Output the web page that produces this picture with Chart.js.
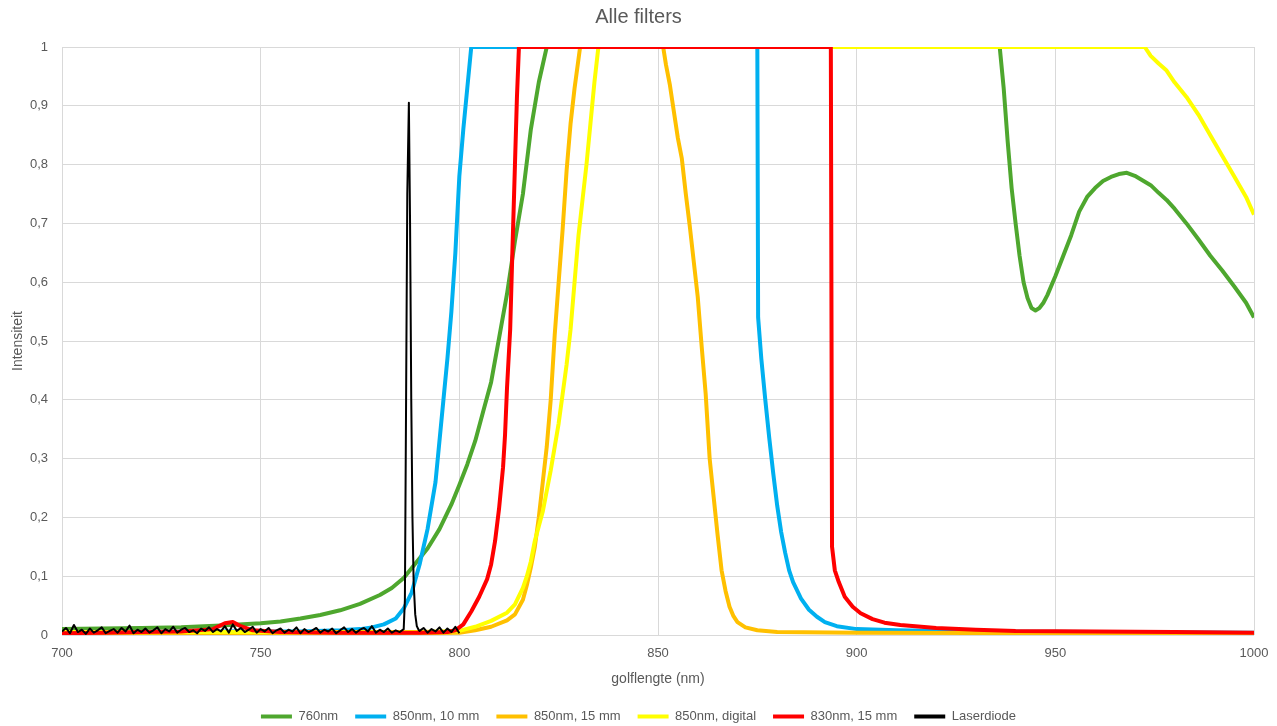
<!DOCTYPE html>
<html>
<head>
<meta charset="utf-8">
<script src="https://cdn.jsdelivr.net/npm/chart.js@4.4.2/dist/chart.umd.min.js"></script>
<style>
  html, body { margin: 0; padding: 0; background: #fff; }
  #wrap { width: 1277px; height: 726px; }
</style>
</head>
<body>
<div id="wrap"><canvas id="chart" width="1277" height="726"></canvas></div>
<script>
// golflengte (nm) / intensiteit per meting
const wl760 = [700, 710, 720, 730, 740, 750, 755, 760, 765, 770, 775, 780, 783, 786, 789, 792, 795, 798, 800, 802, 804, 806, 808, 810, 812, 814, 816, 818, 820, 822,
  936, 937, 938, 939, 940, 941, 942, 943, 944, 945, 946, 947, 948, 950, 952, 954, 956, 958, 960, 962, 964, 966, 968, 970, 972, 974, 976, 978, 980, 983, 986, 989, 992, 995, 998, 1000];
const int760 = [0.010, 0.011, 0.012, 0.013, 0.016, 0.020, 0.023, 0.028, 0.034, 0.042, 0.053, 0.068, 0.080, 0.097, 0.122, 0.147, 0.180, 0.222, 0.255, 0.290, 0.330, 0.380, 0.430, 0.505, 0.580, 0.670, 0.750, 0.860, 0.940, 1,
  1, 0.930, 0.840, 0.760, 0.700, 0.645, 0.600, 0.573, 0.556, 0.552, 0.556, 0.565, 0.578, 0.610, 0.645, 0.680, 0.720, 0.745, 0.760, 0.772, 0.779, 0.784, 0.786, 0.781, 0.773, 0.765, 0.752, 0.740, 0.725, 0.700, 0.673, 0.645, 0.620, 0.593, 0.565, 0.540];

const wl850a = [700, 720, 740, 760, 770, 775, 778, 781, 784, 786, 788, 790, 792, 794, 796, 797, 798, 799, 800, 801, 802, 803,
  875, 875.2, 876, 877, 878, 879, 880, 881, 882, 883, 884, 886, 888, 890, 892, 895, 900, 910, 930, 960, 1000];
const int850a = [0.004, 0.005, 0.006, 0.006, 0.008, 0.010, 0.013, 0.018, 0.028, 0.045, 0.072, 0.120, 0.180, 0.260, 0.400, 0.470, 0.550, 0.650, 0.780, 0.860, 0.930, 1,
  1, 0.540, 0.470, 0.400, 0.335, 0.275, 0.220, 0.175, 0.140, 0.110, 0.090, 0.062, 0.043, 0.031, 0.022, 0.015, 0.010, 0.008, 0.006, 0.005, 0.004];

const wl850b = [700, 750, 790, 800, 804, 808, 812, 814, 816, 817, 818, 819, 820, 821, 822, 823, 824, 825, 826, 827, 828, 829, 830.4,
  851.3, 852, 853, 854, 855, 856, 857, 858, 859, 860, 861, 862, 863, 864, 865, 866, 867, 868, 869, 870, 872, 875, 880, 900, 950, 1000];
const int850b = [0.003, 0.003, 0.003, 0.004, 0.008, 0.014, 0.025, 0.035, 0.060, 0.085, 0.115, 0.150, 0.200, 0.260, 0.320, 0.400, 0.510, 0.600, 0.690, 0.790, 0.870, 0.930, 1,
  1, 0.970, 0.935, 0.890, 0.845, 0.810, 0.750, 0.695, 0.635, 0.575, 0.490, 0.410, 0.300, 0.235, 0.170, 0.110, 0.075, 0.048, 0.032, 0.022, 0.013, 0.008, 0.005, 0.004, 0.003, 0.003];

const wl850c = [700, 750, 790, 800, 804, 808, 812, 814, 816, 817, 818, 819, 820, 821, 822, 823, 824, 825, 826, 827, 828, 829, 830, 831, 832, 833, 834, 835,
  972.5, 974, 976, 978, 980, 983, 986, 989, 992, 995, 998, 1000];
const int850c = [0.005, 0.005, 0.005, 0.007, 0.014, 0.024, 0.038, 0.052, 0.080, 0.100, 0.125, 0.160, 0.185, 0.210, 0.245, 0.280, 0.320, 0.360, 0.410, 0.460, 0.520, 0.600, 0.680, 0.740, 0.800, 0.870, 0.940, 1,
  1, 0.985, 0.972, 0.960, 0.940, 0.915, 0.885, 0.850, 0.815, 0.780, 0.745, 0.715];

const wl830 = [700, 710, 720, 730, 738, 741, 743, 745, 748, 755, 770, 790, 797, 799, 801, 803, 805, 807, 808, 809, 810, 811, 811.5, 812, 812.8, 813.3, 814, 814.5, 815,
  893.5, 893.8, 894.5, 895.5, 897, 899, 901, 904, 907, 911, 920, 930, 940, 960, 980, 1000];
const int830 = [0.003, 0.004, 0.005, 0.006, 0.010, 0.020, 0.022, 0.015, 0.008, 0.005, 0.004, 0.004, 0.005, 0.008, 0.018, 0.040, 0.065, 0.095, 0.120, 0.160, 0.215, 0.285, 0.340, 0.420, 0.520, 0.640, 0.800, 0.915, 1,
  1, 0.150, 0.110, 0.090, 0.065, 0.048, 0.037, 0.027, 0.021, 0.017, 0.012, 0.009, 0.007, 0.006, 0.005, 0.004];

const wlLaser = [700, 701, 702, 703, 704, 705, 706, 707, 708, 709, 710, 711, 712, 713, 714, 715, 716, 717, 718, 719,
  720, 721, 722, 723, 724, 725, 726, 727, 728, 729, 730, 731, 732, 733, 734, 735, 736, 737, 738, 739,
  740, 741, 742, 743, 744, 745, 746, 747, 748, 749, 750, 751, 752, 753, 754, 755, 756, 757, 758, 759,
  760, 761, 762, 763, 764, 765, 766, 767, 768, 769, 770, 771, 772, 773, 774, 775, 776, 777, 778, 779,
  780, 781, 782, 783, 784, 785, 786, 786.3, 786.6, 786.9, 787.3, 787.6, 787.9, 788.2, 788.5, 788.9, 789.3, 789.8,
  790, 791, 792, 793, 794, 795, 796, 797, 798, 799, 800];
const intLaser = [0.006, 0.012, 0.003, 0.017, 0.005, 0.009, 0.002, 0.011, 0.004, 0.008, 0.013, 0.003, 0.007, 0.010, 0.004, 0.012, 0.006, 0.016, 0.003, 0.009,
  0.005, 0.011, 0.004, 0.008, 0.013, 0.003, 0.010, 0.006, 0.014, 0.004, 0.009, 0.012, 0.005, 0.008, 0.003, 0.011, 0.007, 0.013, 0.005, 0.010,
  0.006, 0.015, 0.004, 0.018, 0.007, 0.012, 0.005, 0.009, 0.014, 0.004, 0.010, 0.006, 0.012, 0.003, 0.008, 0.011, 0.004, 0.009, 0.006, 0.013,
  0.003, 0.010, 0.005, 0.008, 0.012, 0.004, 0.009, 0.006, 0.011, 0.003, 0.008, 0.013, 0.005, 0.010, 0.004, 0.009, 0.012, 0.006, 0.015, 0.004,
  0.009, 0.005, 0.011, 0.004, 0.008, 0.005, 0.010, 0.060, 0.400, 0.750, 0.905, 0.700, 0.400, 0.200, 0.090, 0.035, 0.015, 0.008,
  0.007, 0.012, 0.004, 0.010, 0.006, 0.013, 0.004, 0.011, 0.005, 0.014, 0.003];

const seriesNames = ['760nm', '850nm, 10 mm', '850nm, 15 mm', '850nm, digital', '830nm, 15 mm', 'Laserdiode'];
const seriesColors = ['#4EA72E', '#00B0F0', '#FFC000', '#FFFF00', '#FF0000', '#000000'];
const seriesWl = [wl760, wl850a, wl850b, wl850c, wl830, wlLaser];
const seriesInt = [int760, int850a, int850b, int850c, int830, intLaser];

const grey = '#595959';
Chart.defaults.font.family = '"Liberation Sans", Arial, sans-serif';
Chart.defaults.color = grey;

const datasets = seriesNames.map((name, i) => ({
  label: name,
  data: seriesWl[i].map((x, j) => ({ x: x, y: seriesInt[i][j] })),
  borderColor: seriesColors[i],
  backgroundColor: seriesColors[i],
  borderWidth: i === 5 ? 2 : 4,
  pointRadius: 0,
  tension: 0,
  borderJoinStyle: 'round',
  order: seriesNames.length - i
}));

new Chart(document.getElementById('chart'), {
  type: 'line',
  data: { datasets: datasets },
  options: {
    responsive: false,
    animation: false,
    devicePixelRatio: 1,
    layout: { padding: { left: 0, right: 0, top: 0, bottom: -7 } },
    scales: {
      x: {
        type: 'linear',
        min: 700,
        max: 1000,
        afterFit: (scale) => { scale.height = 58; scale.paddingRight = 23; },
        ticks: {
          stepSize: 50,
          padding: 11,
          maxRotation: 0,
          font: { size: 13 },
          callback: (v) => String(v)
        },
        grid: { color: '#d9d9d9', drawTicks: false },
        border: { display: false },
        title: {
          display: true,
          text: 'golflengte (nm)',
          font: { size: 14 },
          padding: { top: 0, bottom: 5.5 }
        }
      },
      y: {
        min: 0,
        max: 1,
        afterFit: (scale) => { scale.width = 62; },
        ticks: {
          stepSize: 0.1,
          padding: 14,
          font: { size: 13 },
          callback: (v) => (v === 0 || v === 1) ? String(v) : v.toFixed(1).replace('.', ',')
        },
        grid: { color: '#d9d9d9', drawTicks: false },
        border: { display: false },
        title: {
          display: true,
          text: 'Intensiteit',
          font: { size: 14 },
          padding: { top: 10, bottom: 0 }
        }
      }
    },
    plugins: {
      title: {
        display: true,
        text: 'Alle filters',
        color: grey,
        font: { size: 20, weight: 'normal' },
        padding: { top: 5.5, bottom: 17.5 }
      },
      legend: {
        position: 'bottom',
        labels: {
          boxWidth: 31,
          boxHeight: 4,
          padding: 17,
          color: grey,
          font: { size: 13 },
          sort: (a, b) => a.datasetIndex - b.datasetIndex,
          generateLabels: (chart) => Chart.defaults.plugins.legend.labels.generateLabels(chart)
            .map((item) => Object.assign(item, { lineWidth: 0 }))
        }
      },
      tooltip: { enabled: false }
    }
  }
});
</script>
</body>
</html>
